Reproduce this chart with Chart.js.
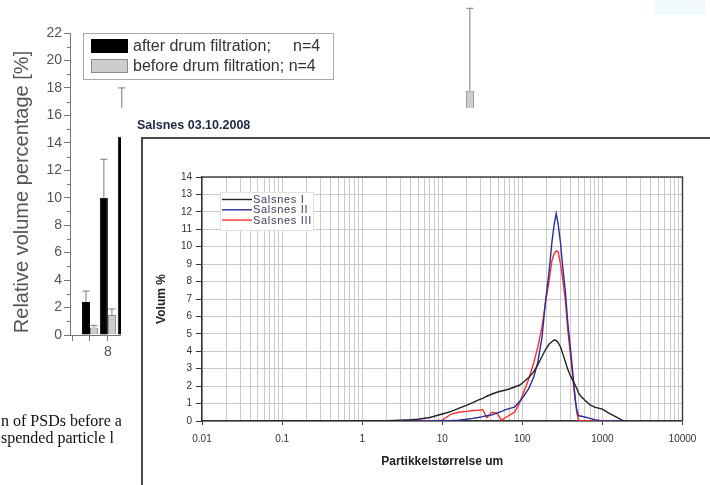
<!DOCTYPE html>
<html><head><meta charset="utf-8">
<script src="https://cdn.jsdelivr.net/npm/chart.js@4.4.1/dist/chart.umd.min.js"></script>
<style>
html,body{margin:0;padding:0;background:#fff;}
body{width:710px;height:485px;position:relative;overflow:hidden;font-family:"Liberation Sans",Arial,sans-serif;}
#barWrap{position:absolute;left:0;top:0;width:710px;height:485px;z-index:1;}
#lineWrap{position:absolute;left:121px;top:108px;width:589px;height:377px;z-index:3;}
#caption{position:absolute;left:1px;top:412px;font-family:"Liberation Serif","Times New Roman",serif;font-size:16px;line-height:17px;color:#111;white-space:nowrap;z-index:2;}
#patch{position:absolute;left:655px;top:0;width:50px;height:15px;background:#f2f9fa;z-index:2;}
</style></head>
<body>
<div id="barWrap"><canvas id="bar"></canvas></div>
<div id="patch"></div>
<div id="caption">n of PSDs before a<br>spended particle l</div>
<div id="lineWrap"><canvas id="line"></canvas></div>
<script>
// ---------- background bar chart data ----------
const binIndex   = [0,1,2,3,4,5,6,7,8,9,10,11,12,13,14,15,16,17,18,19,20,21];
const binLabels  = ['','8','','','','','','','','','','','','','','','','','','','',''];
const afterPct   = [2.4,10.0,14.45,null,null,null,null,null,null,null,null,null,null,null,null,null,null,null,null,null,null,null];
const afterErr   = [3.2,12.8,18.0,null,null,null,null,null,null,null,null,null,null,null,null,null,null,null,null,null,null,null];
const beforePct  = [0.55,1.45,null,null,null,null,null,null,null,null,null,null,null,null,null,null,null,null,null,null,null,17.8];
const beforeErr  = [0.7,1.9,null,null,null,null,null,null,null,null,null,null,null,null,null,null,null,null,null,null,null,23.8];
const barLegendLabels = ['after drum filtration;     n=4','before drum filtration; n=4'];
const barYTitle = 'Relative volume percentage [%]';

// ---------- overlay line chart data ----------
const sizesUm = [0.04,0.1,0.3,1,2,3,4,5,7,10,13,16,20,24,28,32,36,42,48,55,62,70,80,92,105,120,138,155,176,195,215,234,250,265,280,300,320,345,370,398,430,459,480,505,550,600,700,800,1000,1200,1400,1600,1850];
const salsnesI   = [0,0,0,0,0.02,0.05,0.07,0.1,0.2,0.4,0.55,0.72,0.9,1.05,1.2,1.3,1.42,1.55,1.65,1.72,1.78,1.85,1.95,2.05,2.25,2.5,2.8,3.2,3.7,4.1,4.4,4.55,4.65,4.62,4.5,4.25,3.85,3.4,2.95,2.6,2.3,2.05,1.85,1.6,1.38,1.2,0.93,0.8,0.68,0.45,0.3,0.15,0];
const salsnesII  = [0,0,0,0,0,0,0,0,0,0.02,0.03,0.05,0.1,0.15,0.2,0.25,0.3,0.35,0.45,0.55,0.65,0.72,0.8,1.1,1.45,1.85,2.5,3.3,4.8,6.9,8.5,10.25,11.3,11.9,11.3,10.2,8.8,7.4,5.6,4.2,2.6,1.2,0.6,0.3,0.27,0.23,0.15,0.07,0,0,0,0,0];
const salsnesIII = [0,0,0,0,0,0,0,0,0,0.05,0.4,0.5,0.55,0.6,0.62,0.65,0.2,0.5,0.45,0.05,0.2,0.35,0.5,1.0,1.7,2.4,3.3,4.2,5.4,6.8,8.0,9.2,9.6,9.77,9.7,9.0,8.1,6.9,5.2,3.85,2.3,1.2,0.45,0.05,0,0,0,0,0,0,0,0,0];
const seriesNames = ['Salsnes I','Salsnes II','Salsnes III'];
const lineXTickLabels = ['0.01','0.1','1','10','100','1000','10000'];
const lineTitle = 'Salsnes 03.10.2008';
const lineXTitle = 'Partikkelstørrelse um';
const lineYTitle = 'Volum %';

Chart.defaults.font.family = '"Liberation Sans", Arial, sans-serif';

// ---------- bar chart plugins ----------
const errorBars = {
  id:'errorBars',
  afterDatasetsDraw(chart){
    const ctx = chart.ctx, ys = chart.scales.y;
    chart.data.datasets.forEach((ds, di) => {
      const meta = chart.getDatasetMeta(di);
      meta.data.forEach((el, i) => {
        const e = ds.errors[i], v = ds.data[i].y;
        if (e == null || v == null) return;
        const x = el.x, yt = ys.getPixelForValue(e), yv = ys.getPixelForValue(v);
        ctx.save(); ctx.strokeStyle = '#7a7a7a'; ctx.lineWidth = 1;
        ctx.beginPath(); ctx.moveTo(x, yv); ctx.lineTo(x, yt);
        ctx.moveTo(x-3.5, yt); ctx.lineTo(x+3.5, yt); ctx.stroke(); ctx.restore();
      });
    });
  }
};
const minorTicks = {
  id:'minorTicks',
  afterDraw(chart){
    const ctx = chart.ctx, ys = chart.scales.y, x0 = chart.chartArea.left;
    ctx.save(); ctx.strokeStyle = '#777'; ctx.lineWidth = 1;
    for (let v = ys.min + 1; v < ys.max; v += 2) {
      const y = Math.round(ys.getPixelForValue(v)) + 0.5;
      ctx.beginPath(); ctx.moveTo(x0 - 3, y); ctx.lineTo(x0, y); ctx.stroke();
    }
    ctx.restore();
  }
};
const barDecor = {
  id:'barDecor',
  afterDraw(chart){
    const ctx = chart.ctx;
    ctx.save();
    ctx.translate(22.5, 192); ctx.rotate(-Math.PI/2);
    ctx.fillStyle = '#555'; ctx.font = '20px "Liberation Sans", Arial, sans-serif';
    ctx.textAlign = 'center'; ctx.textBaseline = 'middle';
    ctx.fillText(barYTitle, 0, 0);
    ctx.restore();
    ctx.save();
    ctx.fillStyle = '#fff'; ctx.fillRect(83.5, 33.5, 250, 46);
    ctx.strokeStyle = '#a8a8a8'; ctx.lineWidth = 1; ctx.strokeRect(83.5, 33.5, 250, 46);
    chart.data.datasets.forEach((ds, i) => {
      const y = 39.5 + i * 20;
      ctx.fillStyle = ds.backgroundColor; ctx.fillRect(91.5, y, 36, 13);
      ctx.strokeStyle = ds.borderColor; ctx.strokeRect(91.5, y, 36, 13);
      ctx.fillStyle = '#333'; ctx.font = '16px "Liberation Sans", Arial, sans-serif';
      ctx.textAlign = 'left'; ctx.textBaseline = 'middle';
      ctx.fillText(ds.label, 133, y + 7);
    });
    ctx.restore();
  }
};

new Chart(document.getElementById('bar'), {
  type:'bar',
  data:{datasets:[
    {label:barLegendLabels[0], data:binIndex.map((x,i)=>({x, y:afterPct[i]})), errors:afterErr,
     backgroundColor:'#000', borderColor:'#000', borderWidth:1},
    {label:barLegendLabels[1], data:binIndex.map((x,i)=>({x, y:beforePct[i]})), errors:beforeErr,
     backgroundColor:'#cdcdcd', borderColor:'#8c8c8c', borderWidth:1}
  ]},
  options:{
    responsive:true, maintainAspectRatio:false, animation:false,
    layout:{padding:{top:33, left:0, right:10, bottom:0}},
    datasets:{bar:{categoryPercentage:0.9, barPercentage:1.0}},
    plugins:{legend:{display:false}, tooltip:{enabled:false}, title:{display:false}},
    scales:{
      x:{type:'linear', min:-1.117, max:34.08, offset:false,
        afterBuildTicks(s){ const t=[{value:-1}]; binIndex.forEach(v=>t.push({value:v})); s.ticks=t; },
        ticks:{autoSkip:false, maxRotation:0, padding:3, color:'#555', font:{size:14},
          callback(v){ const i = binIndex.indexOf(v); return i >= 0 ? binLabels[i] : ''; }},
        grid:{drawOnChartArea:false, drawTicks:true, tickLength:6, color:'#777', offset:false},
        border:{color:'#777', width:1},
        afterFit(s){ s.height = 150; }
      },
      y:{min:0, max:22,
        ticks:{stepSize:2, padding:2, color:'#555', font:{size:14}},
        grid:{drawOnChartArea:false, drawTicks:true, tickLength:6, color:'#777'},
        border:{color:'#777', width:1},
        afterFit(s){ s.width = 70; }
      }
    }
  },
  plugins:[errorBars, minorTicks, barDecor]
});

// ---------- line chart plugins ----------
const overlayBg = {
  id:'overlayBg',
  beforeDraw(chart){
    const ctx = chart.ctx, w = chart.width, h = chart.height;
    ctx.save();
    ctx.fillStyle = '#fff'; ctx.fillRect(0, 0, w, h);
    ctx.strokeStyle = '#4a4a4a'; ctx.lineWidth = 2;
    ctx.beginPath(); ctx.moveTo(21, h); ctx.lineTo(21, 30); ctx.lineTo(w, 30); ctx.stroke();
    ctx.restore();
  }
};
const plotFrame = {
  id:'plotFrame',
  afterDraw(chart){
    const {left, right, top, bottom} = chart.chartArea, ctx = chart.ctx;
    ctx.save(); ctx.strokeStyle = '#444'; ctx.lineWidth = 1.5;
    ctx.beginPath(); ctx.moveTo(left, top); ctx.lineTo(right, top); ctx.lineTo(right, bottom); ctx.stroke();
    ctx.restore();
  }
};
const lineLegend = {
  id:'lineLegend',
  afterDraw(chart){
    const ctx = chart.ctx;
    ctx.save();
    ctx.fillStyle = '#fff'; ctx.fillRect(99, 84, 93, 38);
    ctx.strokeStyle = '#e2e2e2'; ctx.lineWidth = 1; ctx.strokeRect(99.5, 84.5, 93, 38);
    chart.data.datasets.forEach((ds, i) => {
      const y = 91.5 + i * 10.3;
      ctx.strokeStyle = ds.borderColor; ctx.lineWidth = 1.4;
      ctx.beginPath(); ctx.moveTo(101, y); ctx.lineTo(131, y); ctx.stroke();
      ctx.fillStyle = '#3c4058'; ctx.font = '11px "Liberation Sans", Arial, sans-serif';
      ctx.letterSpacing = '0.7px';
      ctx.textAlign = 'left'; ctx.textBaseline = 'middle';
      ctx.fillText(ds.label, 132, y + 0.5);
    });
    ctx.restore();
  }
};

const isDecade = v => { const k = Math.log10(v); return Math.abs(k - Math.round(k)) < 1e-9; };

new Chart(document.getElementById('line'), {
  type:'line',
  data:{datasets:[
    {label:seriesNames[0], data:sizesUm.map((x,i)=>({x, y:salsnesI[i]})),   borderColor:'#222222'},
    {label:seriesNames[1], data:sizesUm.map((x,i)=>({x, y:salsnesII[i]})),  borderColor:'#2c2c9c'},
    {label:seriesNames[2], data:sizesUm.map((x,i)=>({x, y:salsnesIII[i]})), borderColor:'#ff2e2e'}
  ]},
  options:{
    responsive:true, maintainAspectRatio:false, animation:false,
    layout:{padding:{left:16, right:27.5, top:0, bottom:0}},
    elements:{point:{radius:0}, line:{borderWidth:1.4, tension:0}},
    plugins:{
      legend:{display:false}, tooltip:{enabled:false},
      title:{display:true, text:lineTitle, align:'start', color:'#222a44',
        font:{size:12.5, weight:'bold'}, padding:{top:9.8, bottom:44.2}}
    },
    scales:{
      x:{type:'logarithmic', min:0.01, max:10000,
        afterBuildTicks(s){ const t=[]; for (let e=-2; e<4; e++) for (let m=1; m<10; m++) t.push({value:+(m*Math.pow(10,e)).toPrecision(6)}); t.push({value:10000}); s.ticks=t; },
        ticks:{autoSkip:false, maxRotation:0, padding:8, color:'#333', font:{size:10},
          callback(v){ return isDecade(v) ? lineXTickLabels[Math.round(Math.log10(v)) + 2] : ''; }},
        grid:{color:'#cacaca', lineWidth:1, tickLength:4,
          tickColor:c => (c.tick && isDecade(c.tick.value)) ? '#333' : 'rgba(0,0,0,0)'},
        border:{color:'#333', width:1.5},
        title:{display:true, text:lineXTitle, color:'#222', font:{size:12, weight:'bold'}, padding:{top:0, bottom:15.8}},
        afterFit(s){ s.height = 64; }
      },
      y:{min:0, max:14,
        ticks:{stepSize:1, padding:4, color:'#333', font:{size:10}},
        grid:{color:'#cacaca', lineWidth:1, tickLength:6, tickColor:'#333'},
        border:{color:'#333', width:1.5},
        title:{display:true, text:lineYTitle, color:'#222', font:{size:12, weight:'bold'}, padding:{top:17.8, bottom:0}},
        afterFit(s){ s.width = 65; }
      }
    }
  },
  plugins:[overlayBg, plotFrame, lineLegend]
});
</script>
</body></html>
